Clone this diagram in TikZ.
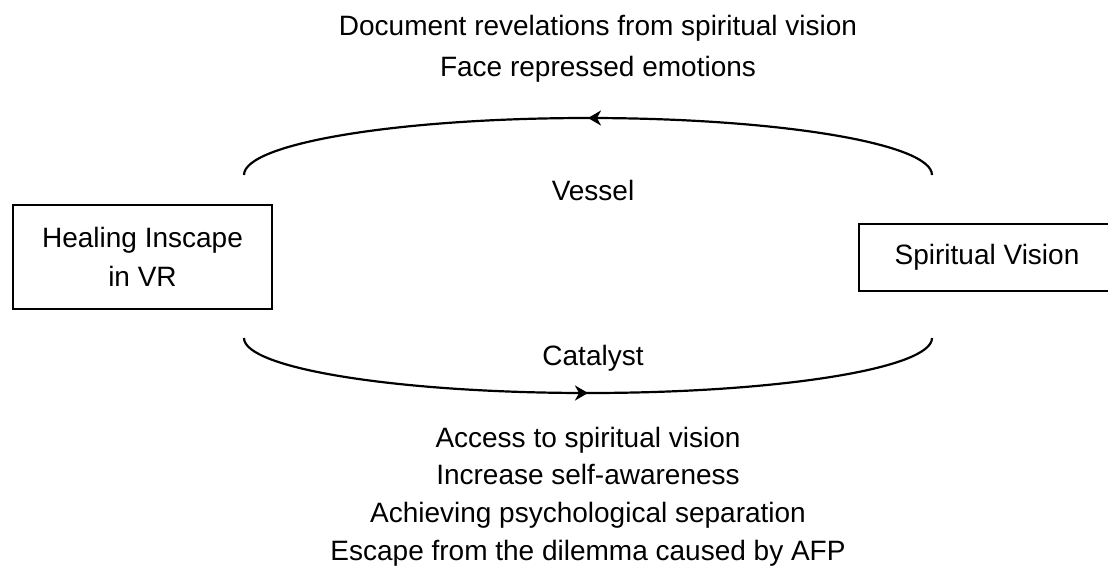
\documentclass[tikz,border=0pt]{standalone}
\usepackage{fontspec}
\setmainfont{Liberation Sans}
\usetikzlibrary{arrows.meta,decorations.markings}
\tikzset{
  box/.style={draw=black,line width=2pt,rectangle,inner sep=0pt,align=center,
    font=\fontsize{28}{39}\selectfont},
  lbl/.style={font=\fontsize{28}{34}\selectfont,anchor=base,inner sep=0pt},
  flow/.style={line width=2.2pt,postaction={decorate},
    decoration={markings,mark=at position 0.5 with
      {\arrow{Stealth[length=13pt,width=15pt,inset=4pt]}}}},
}
\begin{document}
\begin{tikzpicture}[x=1pt,y=-1pt]
\useasboundingbox (0,0) rectangle (1108,574);
% boxes
\node[box,minimum width=259pt,minimum height=104pt] (heal) at (142.5,257) {Healing Inscape\\in VR};
\node[box,minimum width=256pt,minimum height=67pt] (spirit) at (987,257.5) {Spiritual Vision};
% arc end points
\coordinate (tl) at (244,175);
\coordinate (tr) at (932,175);
\coordinate (bl) at (244,338);
\coordinate (br) at (932,338);
% Vessel arc (right to left)
\draw[flow] (tr) .. controls (932,143.5) and (778,118) .. (588,118)
  .. controls (398,118) and (244,143.5) .. (tl);
% Catalyst arc (left to right)
\draw[flow] (bl) .. controls (244,368.4) and (398,393) .. (588,393)
  .. controls (778,393) and (932,368.4) .. (br);
% labels
\node[lbl] (vessel) at (593,200) {Vessel};
\node[lbl] (catalyst) at (593,365) {Catalyst};
\node[lbl] (t1) at (598,35) {Document revelations from spiritual vision};
\node[lbl] (t2) at (598,76) {Face repressed emotions};
\node[lbl] (b1) at (588,447) {Access to spiritual vision};
\node[lbl] (b2) at (588,484) {Increase self-awareness};
\node[lbl] (b3) at (588,522) {Achieving psychological separation};
\node[lbl] (b4) at (588,560) {Escape from the dilemma caused by AFP};
\end{tikzpicture}
\end{document}
